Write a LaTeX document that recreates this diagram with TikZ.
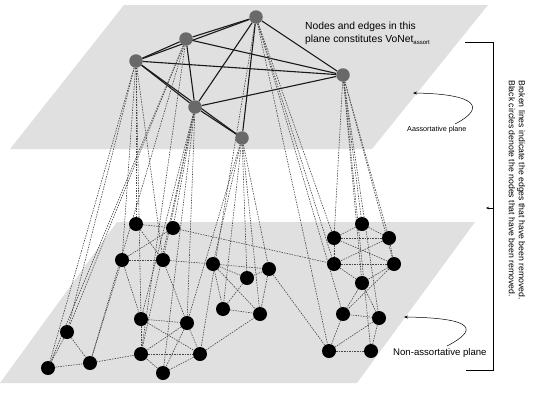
\documentclass[tikz,border=0pt]{standalone}
\usepackage{fontspec}
\setmainfont{Liberation Sans}
\usetikzlibrary{arrows.meta}
\definecolor{planegray}{RGB}{224,224,224}
\definecolor{topgray}{RGB}{105,105,105}
\definecolor{dashgray}{RGB}{70,70,70}
\pgfdeclarelayer{planes}
\pgfdeclarelayer{edges}
\pgfsetlayers{planes,edges,main}
\begin{document}
\begin{tikzpicture}[x=1pt,y=-1pt,
  topnode/.style={circle,fill=topgray,minimum size=13.5pt,inner sep=0pt},
  botnode/.style={circle,fill=black,minimum size=14pt,inner sep=0pt},
  solidedge/.style={line width=1.1pt,black!90},
  dashedge/.style={line width=0.6pt,dashgray,dash pattern=on 1.5pt off 1.1pt},
  lbl/.style={font=\fontsize{10.3}{12}\selectfont,inner sep=0pt,anchor=base west},
  thinarrow/.style={line width=0.5pt,-{Stealth[length=4pt,width=3pt]}}]
\useasboundingbox (0,0) rectangle (554,407);
\begin{pgfonlayer}{planes}
\fill[planegray] (124,5) -- (488,5) -- (372,149) -- (10,149) -- cycle;
\fill[planegray] (117,222) -- (475,222) -- (357,383) -- (0,383) -- cycle;
\end{pgfonlayer}
% top nodes
\node[topnode] (tA) at (256,17) {};
\node[topnode] (tB) at (186,39) {};
\node[topnode] (tC) at (136,61) {};
\node[topnode] (tD) at (343,75) {};
\node[topnode] (tE) at (195,107) {};
\node[topnode] (tF) at (242,138) {};
% bottom nodes
\node[botnode] (b1) at (136,224) {};
\node[botnode] (b2) at (173,228) {};
\node[botnode] (b3) at (122,260) {};
\node[botnode] (b4) at (163,260) {};
\node[botnode] (b5) at (213,264) {};
\node[botnode] (b6) at (269,269) {};
\node[botnode] (b7) at (247,278) {};
\node[botnode] (b8) at (223,309) {};
\node[botnode] (b9) at (260,314) {};
\node[botnode] (b10) at (141,319) {};
\node[botnode] (b11) at (187,323) {};
\node[botnode] (b12) at (67,332) {};
\node[botnode] (b13) at (141,354) {};
\node[botnode] (b14) at (200,354) {};
\node[botnode] (b15) at (48,368) {};
\node[botnode] (b16) at (90,363) {};
\node[botnode] (b17) at (163,373) {};
\node[botnode] (c1) at (362,224) {};
\node[botnode] (c2) at (334,238) {};
\node[botnode] (c3) at (389,238) {};
\node[botnode] (c4) at (334,264) {};
\node[botnode] (c5) at (394,264) {};
\node[botnode] (c6) at (362,283) {};
\node[botnode] (c7) at (343,314) {};
\node[botnode] (c8) at (379,318) {};
\node[botnode] (c9) at (329,351) {};
\node[botnode] (c10) at (371,351) {};
\begin{pgfonlayer}{edges}
% solid edges in the assortative plane
\foreach \u/\v in {tA/tB,tA/tC,tA/tD,tA/tE,tA/tF,tB/tC,tB/tD,tB/tE,tC/tD,tC/tE,tC/tF,tD/tE,tE/tF}
  \draw[solidedge] (\u) -- (\v);
% dashed edges between the planes
\foreach \u/\v in {tC/b1,tC/b3,tC/b12,tC/b15,tC/b4,tC/b10,
                   tB/b12,tB/b15,tB/b16,tB/b13,
                   tE/b2,tE/b4,tE/b10,tE/b11,tE/b13,tE/b17,
                   tF/b5,tF/b7,tF/b8,tF/b9,tF/b6,tF/b11,
                   tA/c2,tA/c4,tA/c7,tA/c9,tA/b14,
                   tD/c1,tD/c3,tD/c5,tD/c6,tD/c8,tD/c10,tD/c2}
  \draw[dashedge] (\u) -- (\v);
% dashed edges in the non-assortative plane
\foreach \u/\v in {b1/b2,b1/b4,b2/b3,b3/b4,b2/c4,b4/b5,b4/b11,b3/b16,b3/b10,
                   b10/b11,b10/b13,b10/b14,b11/b13,b11/b14,b11/b17,b13/b14,b13/b17,b14/b17,
                   b13/b16,b12/b15,b12/b16,b15/b16,b14/b9,
                   b5/b6,b5/b7,b6/b7,b5/b8,b5/b9,b7/b8,b6/b9,b8/b9,b6/c9,
                   c1/c2,c1/c3,c2/c3,c2/c4,c3/c5,c4/c5,c2/c5,c3/c4,c4/c6,c5/c6,
                   c6/c7,c6/c8,c7/c8,c7/c9,c8/c10,c9/c10,c8/c9,c5/c7}
  \draw[dashedge] (\u) -- (\v);
\end{pgfonlayer}
% labels
\node[lbl] (t1) at (305,29) {Nodes and edges in this};
\node[lbl] (t2) at (305,42) {plane constitutes VoNet\raisebox{-2pt}{\fontsize{6}{7}\selectfont assort}};
\node[inner sep=0pt,anchor=base west,font=\fontsize{7.2}{9}\selectfont] (asl) at (407,131) {Aassortative plane};
\node[inner sep=0pt,anchor=base west,font=\fontsize{9.6}{11}\selectfont] (nasl) at (393,355) {Non-assortative plane};
\coordinate (as0) at (455,124);
\coordinate (as1) at (413,93);
\draw[thinarrow] (as0) .. controls (486,108) and (478,94) .. (as1);
\coordinate (na0) at (447,346);
\coordinate (na1) at (404,317);
\draw[thinarrow] (na0) .. controls (478,330) and (476,318) .. (na1);
% bracket
\coordinate (br1) at (465,42);
\coordinate (br2) at (493,42);
\coordinate (br3) at (493,370);
\coordinate (br4) at (466,370);
\draw[line width=0.6pt] (br1) -- (br2) -- (br3) -- (br4);
\coordinate (bm) at (493,208);
\coordinate (bm2) at (486,208);
\draw[line width=0.5pt,-{Stealth[length=3pt,width=2.5pt]}] (bm) -- (bm2);
\node[rotate=-90,align=left,inner sep=0pt,font=\fontsize{8.7}{10}\selectfont] (note) at (517,190)
  {Broken lines indicate the edges that have been removed.\\Black circles denote the nodes that have been removed.};
\end{tikzpicture}
\end{document}
